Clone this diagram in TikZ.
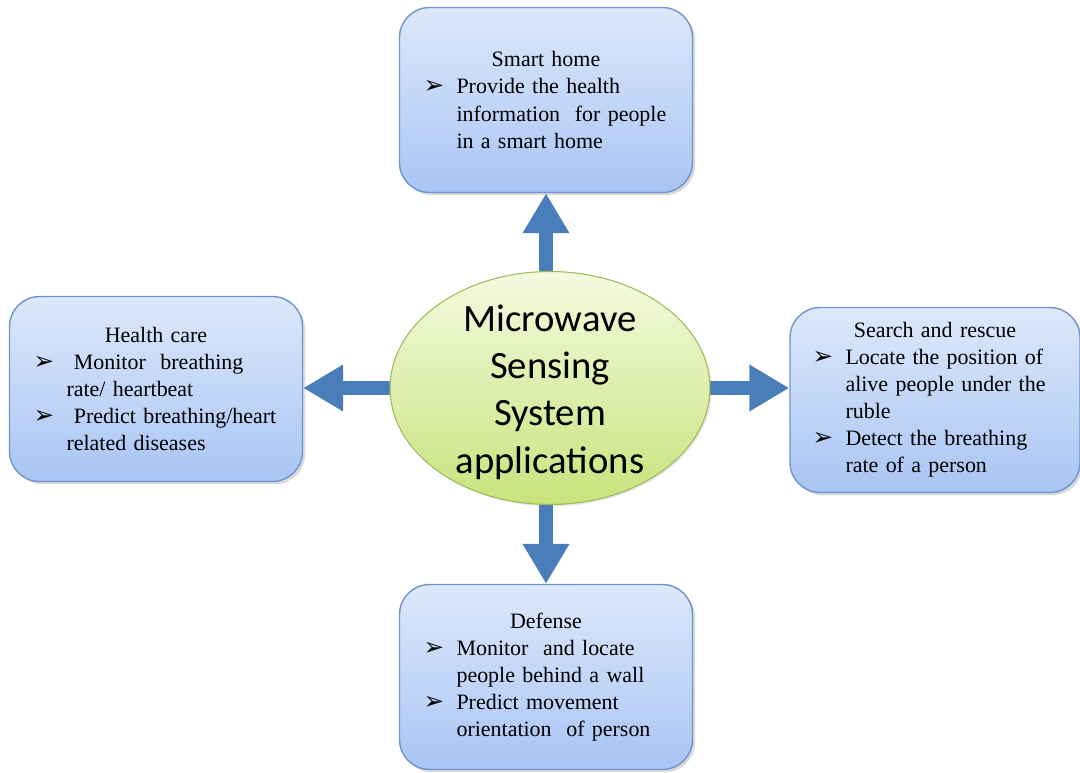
\documentclass[tikz,border=0pt]{standalone}
\usepackage{fontspec}
\setmainfont{Liberation Serif}
\newfontfamily\symfont{DejaVu Sans}
\newfontfamily\calfont{Carlito}
\usetikzlibrary{arrows.meta,positioning,calc,shadows,shapes.geometric,backgrounds}
\definecolor{boxtop}{HTML}{DDE8FB}
\definecolor{boxbot}{HTML}{A9C5F4}
\definecolor{boxline}{HTML}{7094CC}
\definecolor{elltop}{HTML}{F5FADF}
\definecolor{ellbot}{HTML}{C8E37C}
\definecolor{ellline}{HTML}{9CBB5A}
\definecolor{arr}{HTML}{4A7EBB}
\hyphenpenalty=10000
\newlength{\boxtw}
\setlength{\boxtw}{5.3cm}
\newcommand{\bul}{\hspace*{0.2cm}\makebox[0.66cm][l]{\symfont\fontsize{14}{14}\selectfont ➢}}
\newcommand{\ind}{\hspace*{0.86cm}}
\newcommand{\ttl}[1]{\makebox[\boxtw][c]{#1}}

\begin{document}
\begin{tikzpicture}[
  x=0.02cm, y=-0.02cm,
  font=\fontsize{12.5}{15.4}\selectfont,
  appbox/.style={draw=boxline, line width=0.8pt, rounded corners=0.6cm,
    top color=boxtop, bottom color=boxbot, minimum width=5.86cm, minimum height=3.7cm,
    text width=\boxtw, align=left, inner sep=0pt,
    drop shadow={opacity=0.3, shadow xshift=1.5pt, shadow yshift=-1.5pt}},
  hub/.style={ellipse, draw=ellline, line width=0.6pt, top color=elltop, bottom color=ellbot,
    minimum width=6.4cm, minimum height=4.66cm, inner sep=0pt,
    drop shadow={opacity=0.2, shadow xshift=1pt, shadow yshift=-1pt}},
  hubtext/.style={align=center, inner sep=0pt, font=\calfont\fontsize{22}{27}\selectfont},
  flow/.style={draw=arr, line width=0.28cm, -{Triangle[width=0.88cm,length=0.8cm]}},
]
\useasboundingbox (0,0) rectangle (1080,772);
% centre of the diagram
\node[hub] (mss) at (550,388) {};
\node[hubtext] (msstext) at ($(mss.center)+(0,4)$) {Microwave\\Sensing\\System\\applications};
% application boxes
\node[appbox] (smart) at (546,100) {\ttl{Smart home}\\
  \bul Provide the health\\
  \ind information\ \ for people\\
  \ind in a smart home};
\node[appbox] (health) at (156,389) {\ttl{Health care}\\
  \bul\ Monitor\ \ breathing\\
  \ind rate/ heartbeat\\
  \bul\ Predict breathing/heart\\
  \ind related diseases};
\node[appbox, minimum width=5.8cm] (search) at (935,400) {\ttl{Search and rescue}\\
  \bul Locate the position of\\
  \ind alive people under the\\
  \ind ruble\\
  \bul Detect the breathing\\
  \ind rate of a person};
\node[appbox] (defense) at (546,677) {\ttl{Defense}\\
  \bul Monitor\ \ and locate\\
  \ind people behind a wall\\
  \bul Predict movement\\
  \ind orientation\ \ of person};
% arrows
\begin{scope}[on background layer]
\draw[flow] (smart.south |- mss.north) -- (smart.south);
\draw[flow] (defense.north |- mss.south) -- (defense.north);
\draw[flow] (mss.west) -- (mss.west -| health.east);
\draw[flow] (mss.east) -- (mss.east -| search.west);
\end{scope}
\end{tikzpicture}
\end{document}
